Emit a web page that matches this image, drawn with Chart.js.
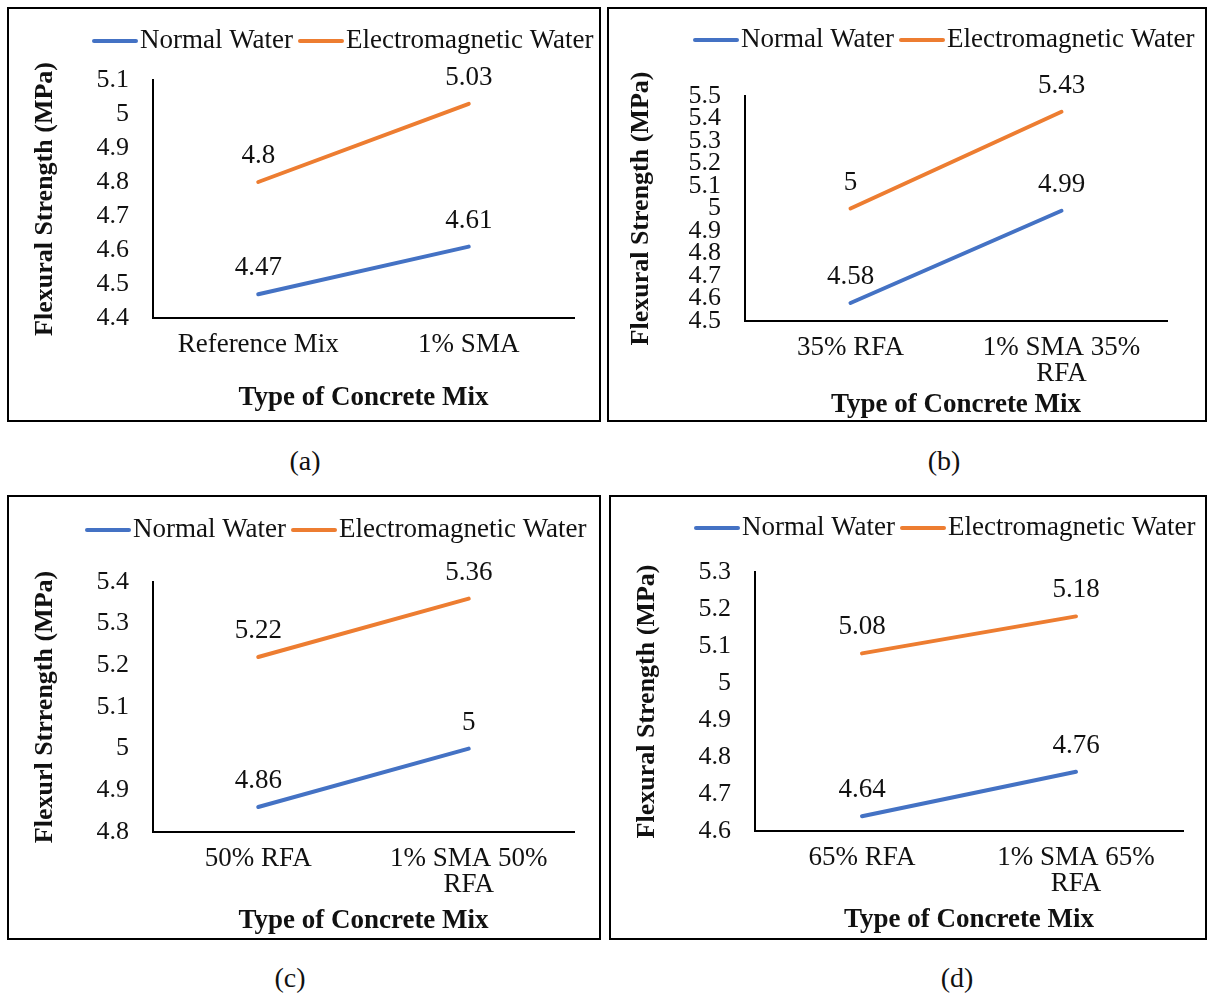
<!DOCTYPE html>
<html>
<head>
<meta charset="utf-8">
<script src="https://cdn.jsdelivr.net/npm/chart.js@4/dist/chart.umd.min.js"></script>
<style>
  html, body { margin: 0; padding: 0; background: #fff; }
  body { width: 1210px; height: 996px; position: relative; overflow: hidden; }
  .panel { position: absolute; border: 2px solid #000; box-sizing: border-box; }
  .panel canvas { position: absolute; left: 0; top: 0; }
  .caption { position: absolute; font: 28px "Liberation Serif", "Times New Roman", serif; color: #111; transform: translate(-50%, -50%); }
</style>
</head>
<body>
<script>
// series labels
const seriesNames = ["Normal Water", "Electromagnetic Water"];
const seriesColors = ["#4472C4", "#ED7D31"];

// (a)
const categoriesA = ["Reference Mix", "1% SMA"];
const normalA = [4.47, 4.61];
const emA = [4.8, 5.03];
const yRangeA = [4.4, 5.1];

// (b)
const categoriesB = ["35% RFA", ["1% SMA 35%", "RFA"]];
const normalB = [4.58, 4.99];
const emB = [5.0, 5.43];
const yRangeB = [4.5, 5.5];

// (c)
const categoriesC = ["50% RFA", ["1% SMA 50%", "RFA"]];
const normalC = [4.86, 5.0];
const emC = [5.22, 5.36];
const yRangeC = [4.8, 5.4];

// (d)
const categoriesD = ["65% RFA", ["1% SMA 65%", "RFA"]];
const normalD = [4.64, 4.76];
const emD = [5.08, 5.18];
const yRangeD = [4.6, 5.3];

const yTitles = ["Flexural Strength (MPa)", "Flexural Strength (MPa)", "Flexurl Strrength (MPa)", "Flexural Strength (MPa)"];
const xTitle = "Type of Concrete Mix";
const captions = ["(a)", "(b)", "(c)", "(d)"];

// page layout of each panel (px): box, plot area, title centres, legend start, caption
const panels = [
  { box: [7, 7, 601, 422], plot: [153, 80, 574, 318], yTitleX: 45, xTitleY: 398, legend: [92, 41], cap: [305, 461],
    cats: categoriesA, normal: normalA, em: emA, range: yRangeA },
  { box: [607, 7, 1207, 422], plot: [745, 96, 1167, 321], yTitleX: 641, xTitleY: 405, legend: [693, 40], cap: [944, 461],
    cats: categoriesB, normal: normalB, em: emB, range: yRangeB },
  { box: [7, 495, 601, 940], plot: [153, 582, 574, 832], yTitleX: 45, xTitleY: 921, legend: [85, 530], cap: [290, 978],
    cats: categoriesC, normal: normalC, em: emC, range: yRangeC },
  { box: [609, 495, 1207, 940], plot: [755, 572, 1183, 831], yTitleX: 647, xTitleY: 920, legend: [694, 528], cap: [957, 978],
    cats: categoriesD, normal: normalD, em: emD, range: yRangeD },
];

const SERIF = '"Liberation Serif", "Times New Roman", serif';
Chart.defaults.font.family = SERIF;
Chart.defaults.color = "#111";

const Y_TITLE_SIZE = 26;
const X_TITLE_SIZE = 27;
const TEXT_SIZE = 27;

// legend drawn as a short line + text, like the Excel one
const lineLegend = {
  id: "lineLegend",
  afterDraw(chart, args, opts) {
    const ctx = chart.ctx;
    ctx.save();
    ctx.font = TEXT_SIZE + "px " + SERIF;
    ctx.textBaseline = "middle";
    ctx.textAlign = "left";
    let x = opts.x;
    chart.data.datasets.forEach(ds => {
      ctx.strokeStyle = ds.borderColor;
      ctx.lineWidth = 4;
      ctx.lineCap = "round";
      ctx.beginPath();
      ctx.moveTo(x + 2, opts.y);
      ctx.lineTo(x + 44, opts.y);
      ctx.stroke();
      ctx.fillStyle = "#111";
      ctx.fillText(ds.label, x + 48, opts.y);
      x += 48 + ctx.measureText(ds.label).width + 5;
    });
    ctx.restore();
  }
};

// value labels above each point
const valueLabels = {
  id: "valueLabels",
  afterDatasetsDraw(chart) {
    const ctx = chart.ctx;
    ctx.save();
    ctx.font = TEXT_SIZE + "px " + SERIF;
    ctx.fillStyle = "#111";
    ctx.textAlign = "center";
    ctx.textBaseline = "middle";
    chart.data.datasets.forEach((ds, i) => {
      chart.getDatasetMeta(i).data.forEach((pt, j) => {
        ctx.fillText(String(ds.data[j]), pt.x, pt.y - 26);
      });
    });
    ctx.restore();
  }
};

panels.forEach((p, idx) => {
  const [bx0, by0, bx1, by1] = p.box;
  const [pl, pt, pr, pb] = p.plot;
  const div = document.createElement("div");
  div.className = "panel";
  Object.assign(div.style, { left: bx0 + "px", top: by0 + "px", width: (bx1 - bx0) + "px", height: (by1 - by0) + "px" });
  const canvas = document.createElement("canvas");
  const cw = bx1 - bx0 - 4, ch = by1 - by0 - 4;
  canvas.width = cw; canvas.height = ch;
  canvas.style.width = cw + "px"; canvas.style.height = ch + "px";
  div.appendChild(canvas);
  document.body.appendChild(div);

  const cap = document.createElement("div");
  cap.className = "caption";
  cap.textContent = captions[idx];
  cap.style.left = p.cap[0] + "px";
  cap.style.top = p.cap[1] + "px";
  document.body.appendChild(cap);

  const cx = bx0 + 2, cy = by0 + 2;
  const scaleLeft = p.yTitleX - Y_TITLE_SIZE * 0.6;
  const yWidth = pl - scaleLeft;
  const xHeight = p.xTitleY + X_TITLE_SIZE * 0.6 - pb;

  new Chart(canvas, {
    type: "line",
    data: {
      labels: p.cats,
      datasets: [
        { label: seriesNames[0], data: p.normal, borderColor: seriesColors[0], backgroundColor: seriesColors[0] },
        { label: seriesNames[1], data: p.em, borderColor: seriesColors[1], backgroundColor: seriesColors[1] },
      ],
    },
    options: {
      responsive: false,
      animation: false,
      devicePixelRatio: 1,
      layout: {
        padding: {
          left: scaleLeft - cx,
          top: pt - cy,
          right: cx + cw - pr,
          bottom: cy + ch - pb - xHeight,
        },
      },
      elements: {
        line: { borderWidth: 4, tension: 0, borderCapStyle: "round" },
        point: { radius: 0, hoverRadius: 0 },
      },
      plugins: {
        legend: { display: false },
        tooltip: { enabled: false },
        lineLegend: { x: p.legend[0] - cx, y: p.legend[1] - cy },
      },
      scales: {
        x: {
          type: "category",
          offset: true,
          grid: { display: false, drawTicks: false },
          border: { display: true, color: "#000", width: 2 },
          ticks: { padding: 14, autoSkip: false, maxRotation: 0, font: { size: TEXT_SIZE, lineHeight: 0.95 } },
          title: { display: true, text: xTitle, padding: 0, font: { size: X_TITLE_SIZE, weight: "bold", lineHeight: 1.2 } },
          afterFit: s => { s.height = xHeight; },
        },
        y: {
          min: p.range[0],
          max: p.range[1],
          grid: { display: false, drawTicks: false },
          border: { display: true, color: "#000", width: 2 },
          ticks: {
            stepSize: 0.1, padding: 24, autoSkip: false,
            font: { size: 26, lineHeight: 1.0 },
            callback: v => String(Number(v.toFixed(2))),
          },
          title: { display: true, text: yTitles[idx], padding: 0, font: { size: Y_TITLE_SIZE, weight: "bold", lineHeight: 1.2 } },
          afterFit: s => { s.width = yWidth; },
        },
      },
    },
    plugins: [lineLegend, valueLabels],
  });
});
</script>
</body>
</html>
